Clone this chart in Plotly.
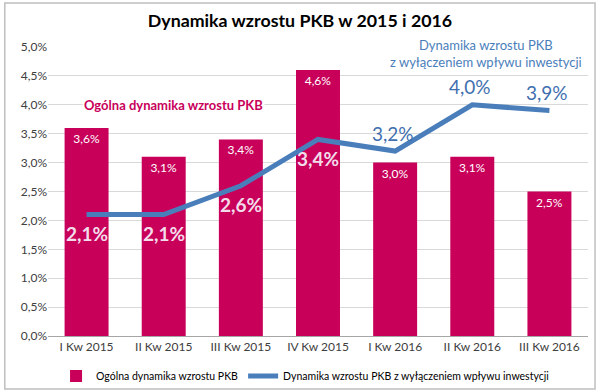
import plotly.graph_objects as go

categories = ["I Kw 2015", "II Kw 2015", "III Kw 2015", "IV Kw 2015", "I Kw 2016", "II Kw 2016", "III Kw 2016"]
ogolna = [3.6, 3.1, 3.4, 4.6, 3.0, 3.1, 2.5]
bez_inwestycji = [2.1, 2.1, 2.6, 3.4, 3.2, 4.0, 3.9]
ytick_vals = [0, 0.5, 1.0, 1.5, 2.0, 2.5, 3.0, 3.5, 4.0, 4.5, 5.0]
ytick_text = ["0,0%", "0,5%", "1,0%", "1,5%", "2,0%", "2,5%", "3,0%", "3,5%", "4,0%", "4,5%", "5,0%"]

BAR = "#C8005A"
LINE = "#4A7EBB"
FONT = "Lato"

def pct(v):
    return f"{v:.1f}".replace(".", ",") + "%"

fig = go.Figure()
fig.add_trace(go.Bar(
    x=categories, y=ogolna, name="Ogólna dynamika wzrostu PKB",
    marker=dict(color=BAR, line=dict(width=0)),
    text=[pct(v) for v in ogolna], textposition="inside", insidetextanchor="end",
    textfont=dict(color="#FFFFFF", size=12, family=FONT),
    textangle=0,
))
fig.add_trace(go.Scatter(
    x=categories, y=bez_inwestycji, name="Dynamika wzrostu PKB z wyłączeniem wpływu inwestycji",
    mode="lines", line=dict(color=LINE, width=5),
))

annotations = []
for i, (c, v) in enumerate(zip(categories, bez_inwestycji)):
    below = i < 4
    annotations.append(dict(
        x=c, y=v, xref="x", yref="y", text=(f"<b>{pct(v)}</b>" if below else pct(v)),
        showarrow=False, yshift=(-19 if below else 18), xshift=(0 if below else -2),
        font=dict(size=19, color=("#F3DCEA" if below else "#3F6FAF"), family=FONT),
        xanchor="center", yanchor="middle"))

annotations += [
    dict(text="<b>Ogólna dynamika wzrostu PKB</b>", x=0.232, y=4.0, xref="paper", yref="y",
         showarrow=False, font=dict(size=13, color=BAR, family=FONT), bgcolor="white",
         xanchor="center", yanchor="middle"),
    dict(text="Dynamika wzrostu PKB<br>z wyłączeniem wpływu inwestycji", x=0.811, y=1.0,
         yshift=-6, xref="paper", yref="paper", showarrow=False, align="center",
         font=dict(size=13, color=LINE, family=FONT), bgcolor="white",
         xanchor="center", yanchor="middle"),
]

fig.update_layout(
    width=600, height=392,
    margin=dict(l=48, r=12, t=47, b=56, autoexpand=False),
    paper_bgcolor="white", plot_bgcolor="white",
    font=dict(family=FONT, color="#404040", size=12),
    title=dict(text="<b>Dynamika wzrostu PKB w 2015 i 2016</b>", x=0.5, xanchor="center",
               y=0.948, yanchor="middle", font=dict(size=17.8, color="#000000", family=FONT)),
    bargap=0.43,
    showlegend=True,
    legend=dict(orientation="h", x=0.476, xanchor="center", y=-0.138, yanchor="middle",
                font=dict(size=10.5, color="#000000", family=FONT), itemwidth=30,
                bgcolor="rgba(0,0,0,0)"),
    xaxis=dict(showgrid=False, showline=True, linecolor="#A6A6A6", linewidth=1,
               ticks="", tickfont=dict(size=12, color="#404040"), automargin=False),
    yaxis=dict(range=[0, 5], tickvals=ytick_vals, ticktext=ytick_text, showgrid=True,
               gridcolor="#D9D9D9", gridwidth=1, zeroline=False, showline=False,
               tickfont=dict(size=12, color="#404040"), ticks="", automargin=False),
    annotations=annotations,
    shapes=[dict(type="rect", xref="paper", yref="paper", x0=-0.08, x1=1.013, y0=-0.183, y1=1.152,
                 line=dict(color="#BFBFBF", width=1.5), fillcolor="rgba(0,0,0,0)", layer="below")],
)

fig.write_html("out.html", config={"displayModeBar": False},
               post_script="document.body.style.margin='0';")
